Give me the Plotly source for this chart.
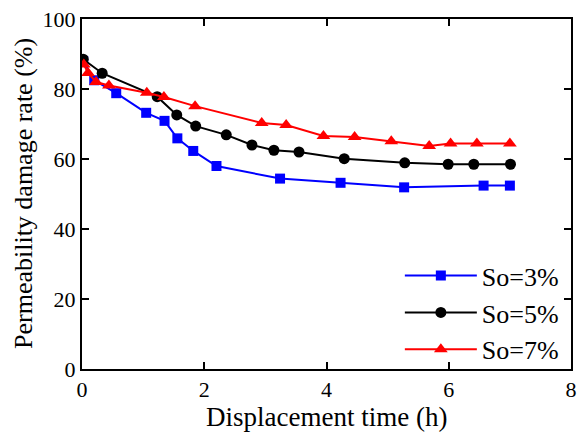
import plotly.graph_objects as go

# So = 3%
t3 = [0.02, 0.2, 0.56, 1.05, 1.35, 1.56, 1.82, 2.2, 3.24, 4.23, 5.27, 6.57, 7.0]
d3 = [88.0, 82.5, 78.8, 73.2, 70.9, 65.9, 62.3, 58.0, 54.4, 53.2, 51.9, 52.4, 52.4]
# So = 5%
t5 = [0.02, 0.33, 1.23, 1.55, 1.86, 2.36, 2.78, 3.14, 3.55, 4.29, 5.28, 5.99, 6.41, 7.01]
d5 = [88.5, 84.5, 77.8, 72.6, 69.4, 66.9, 64.0, 62.5, 62.0, 60.1, 58.9, 58.5, 58.5, 58.5]
# So = 7%
t7 = [0.03, 0.1, 0.23, 0.44, 1.06, 1.34, 1.85, 2.94, 3.34, 3.95, 4.46, 5.06, 5.68, 6.03, 6.46, 7.0]
d7 = [87.0, 84.6, 82.0, 81.0, 78.9, 77.7, 75.1, 70.3, 69.7, 66.6, 66.3, 65.1, 63.7, 64.4, 64.4, 64.4]

x_title = "Displacement time (h)"
y_title = "Permeability damage rate (%)"

series = [
    ("So=3%", t3, d3, "#0000ff", "square", 10),
    ("So=5%", t5, d5, "#000000", "circle", 11),
    ("So=7%", t7, d7, "#ff0000", "triangle-up", 12),
]

fig = go.Figure()
for name, x, y, c, sym, sz in series:
    fig.add_trace(go.Scatter(x=x, y=y, name=name, mode="lines+markers",
                             line=dict(color=c, width=2),
                             marker=dict(symbol=sym, size=sz, color=c)))

font = "Liberation Serif"
axis_common = dict(showline=True, linecolor="black", linewidth=2, mirror="ticks",
                   ticks="inside", tickcolor="black", tickwidth=1.5, ticklen=7,
                   showgrid=False, zeroline=False, automargin=False,
                   tickfont=dict(family=font, size=22, color="black"))
fig.update_xaxes(range=[0, 8], dtick=2, **axis_common)
fig.update_yaxes(range=[0, 100], dtick=20, **axis_common)

fig.add_annotation(text=x_title, xref="paper", yref="paper", x=0.5, y=0,
                   yshift=-48, xanchor="center", yanchor="middle", showarrow=False,
                   font=dict(family=font, size=27, color="black"))
fig.add_annotation(text=y_title, xref="paper", yref="paper", x=0, y=0.5,
                   xshift=-59, xanchor="center", yanchor="middle", showarrow=False,
                   textangle=-90, font=dict(family=font, size=26, color="black"))

fig.update_layout(
    width=577, height=436,
    margin=dict(l=82, r=6, t=19, b=67),
    plot_bgcolor="white", paper_bgcolor="white",
    font=dict(family=font),
    legend=dict(x=0.65, y=-0.012, xanchor="left", yanchor="bottom",
                font=dict(family=font, size=26, color="black"),
                bgcolor="rgba(0,0,0,0)", itemwidth=72, tracegroupgap=0),
)
fig.write_html("out.html", config={"displayModeBar": False},
               post_script="document.body.style.margin='0px';")
